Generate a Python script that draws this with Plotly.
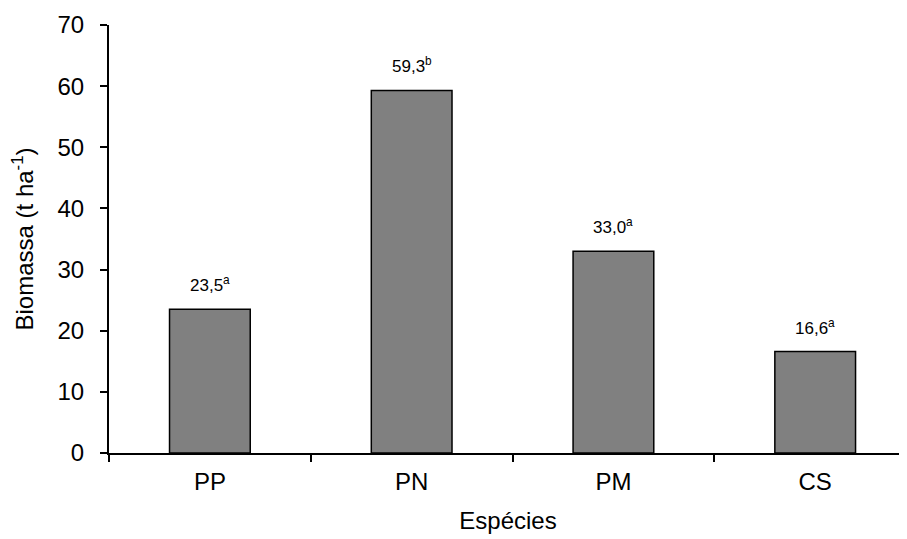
import plotly.graph_objects as go

categories = ["PP", "PN", "PM", "CS"]
biomassa = [23.5, 59.3, 33.0, 16.6]
value_labels = ["23,5", "59,3", "33,0", "16,6"]
letters = ["a", "b", "a", "a"]
y_ticks = [0, 10, 20, 30, 40, 50, 60, 70]

font = "Liberation Sans, Arial, sans-serif"

fig = go.Figure()
fig.add_trace(go.Bar(
    x=categories, y=biomassa,
    marker=dict(color="#808080", line=dict(color="black", width=1.5)),
    width=0.4,
))

for c, v, lab, let in zip(categories, biomassa, value_labels, letters):
    fig.add_annotation(
        x=c, y=v, text=f"{lab}<sup>{let}</sup>", showarrow=False,
        yanchor="bottom", yshift=12,
        font=dict(family=font, size=17, color="black"),
    )

fig.update_layout(
    width=899, height=531,
    margin=dict(l=101, r=0, t=17, b=86),
    paper_bgcolor="white", plot_bgcolor="white",
    showlegend=False,
    font=dict(family=font, color="black"),
    xaxis=dict(
        type="category", range=[-0.5, 3.455],
        showline=True, linecolor="black", linewidth=2,
        ticks="outside", tickson="boundaries", ticklen=7, tickwidth=2, tickcolor="black",
        tickfont=dict(size=24), showgrid=False, ticklabelstandoff=6,
        title=dict(text="Espécies", font=dict(size=24), standoff=18),
    ),
    yaxis=dict(
        range=[0, 70], tickvals=y_ticks,
        showline=True, linecolor="black", linewidth=2,
        ticks="outside", ticklen=7, tickwidth=2, tickcolor="black",
        tickfont=dict(size=24), showgrid=False, zeroline=False, ticklabelstandoff=11,
        title=dict(text="Biomassa (t ha<sup>-1</sup>)", font=dict(size=24), standoff=22),
    ),
)

fig.write_html("out.html")
